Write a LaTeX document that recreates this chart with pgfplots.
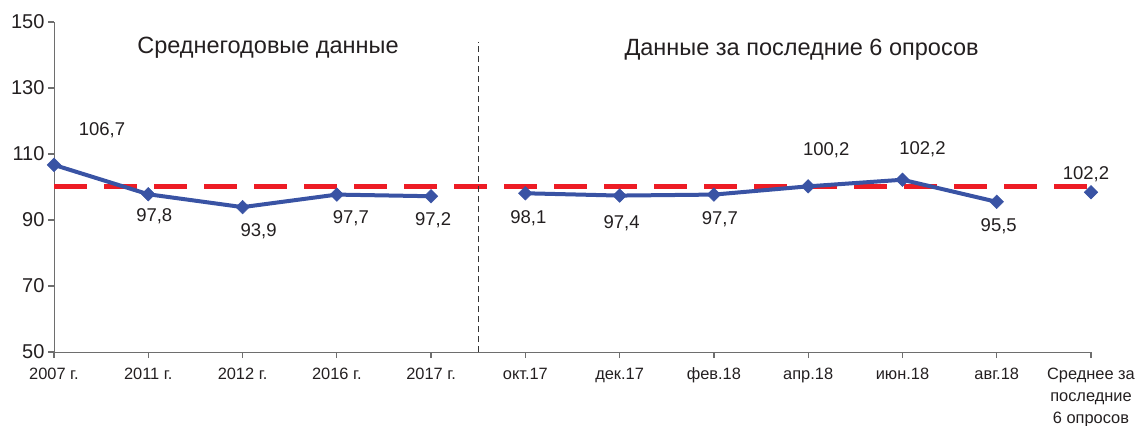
\documentclass[border=0pt]{standalone}
\usepackage{pgfplots}
\usepackage{pgfplotstable}
\pgfplotsset{compat=1.18}
\usepackage{fontspec}
\setmainfont{Liberation Sans}
\definecolor{lineblue}{RGB}{57,83,164}
\definecolor{refred}{RGB}{237,28,36}
\definecolor{axisgray}{RGB}{110,110,110}
\definecolor{txt}{RGB}{35,31,32}

\pgfplotstableread{
x y
0 106.7
1 97.8
2 93.9
3 97.7
4 97.2
}\annual
\pgfplotstableread{
x y
5 98.1
6 97.4
7 97.7
8 100.2
9 102.2
10 95.5
}\recent
\pgfplotstableread{
x y
11 98.4
}\avgsix
\pgfplotstableread{
x y lab dx dy
0 106.7 106,7 48 35
1 97.8 97,8 6 -22
2 93.9 93,9 16 -24
3 97.7 97,7 14 -24
4 97.2 97,2 2 -24
5 98.1 98,1 3 -25
6 97.4 97,4 2 -28
7 97.7 97,7 6 -25
8 100.2 100,2 18 36
9 102.2 102,2 20 31
10 95.5 95,5 2 -24
11 98.4 102,2 -5 18
}\labels

\newcommand{\xs}{\rule{0pt}{13bp}}
\begin{document}
\begin{tikzpicture}
\begin{axis}[
  name=ax, at={(0,0)}, anchor=south west,
  scale only axis, width=1037bp, height=330bp,
  xmin=0, xmax=11, ymin=50, ymax=150,
  enlargelimits=false, clip=false,
  axis x line*=bottom, axis y line*=left,
  axis line style={axisgray, line width=1bp},
  ytick={50,70,...,150},
  xtick={0,...,11},
  xticklabels={\xs 2007 г., \xs 2011 г., \xs 2012 г., \xs 2016 г., \xs 2017 г., \xs окт.17, \xs дек.17, \xs фев.18, \xs апр.18, \xs июн.18, \xs авг.18, {\xs Среднее за\\последние\\6 опросов}},
  xticklabel style={align=center, font=\fontsize{16.4bp}{22bp}\selectfont, text=txt, yshift=-5bp},
  yticklabel style={font=\fontsize{20bp}{22bp}\selectfont, text=txt},
  /pgf/number format/assume math mode=true,
  tick align=outside, major tick length=6bp,
  tick style={axisgray, line width=1.2bp},
]
\addplot[refred, line width=5bp, dash pattern=on 32.7bp off 17.3bp] coordinates {(0,100) (11,100)};
\addplot[black!80, line width=1.3bp, dash pattern=on 6bp off 4bp] coordinates {(4.5,50) (4.5,144)};
\addplot[lineblue, line width=4bp, mark=square*, mark size=4.8bp, mark options={rotate=45, solid, line width=0.5bp}] table[x=x,y=y] {\annual};
\addplot[lineblue, line width=4bp, mark=square*, mark size=4.8bp, mark options={rotate=45, solid, line width=0.5bp}] table[x=x,y=y] {\recent};
\addplot[lineblue, only marks, mark=square*, mark size=4.8bp, mark options={rotate=45, solid, line width=0.5bp}] table[x=x,y=y] {\avgsix};
\addplot[draw=none, mark=none, nodes near coords, point meta=explicit symbolic,
  visualization depends on={\thisrow{dx} \as \dxv},
  visualization depends on={\thisrow{dy} \as \dyv},
  every node near coord/.style={anchor=center, text=txt, font=\fontsize{18.5bp}{20bp}\selectfont, xshift=\dxv*1bp, yshift=\dyv*1bp}]
  table[x=x,y=y,meta=lab] {\labels};
\node[text=txt, font=\fontsize{23.5bp}{26bp}\selectfont] at (axis cs:2.27,142.3) {Среднегодовые данные};
\node[text=txt, font=\fontsize{23.5bp}{26bp}\selectfont] at (axis cs:7.93,141.5) {Данные за последние 6 опросов};
\end{axis}
\pgfresetboundingbox
\path[use as bounding box] ([shift={(-54bp,-74bp)}]ax.south west) rectangle ([shift={(44bp,22bp)}]ax.north east);
\end{tikzpicture}
\end{document}
